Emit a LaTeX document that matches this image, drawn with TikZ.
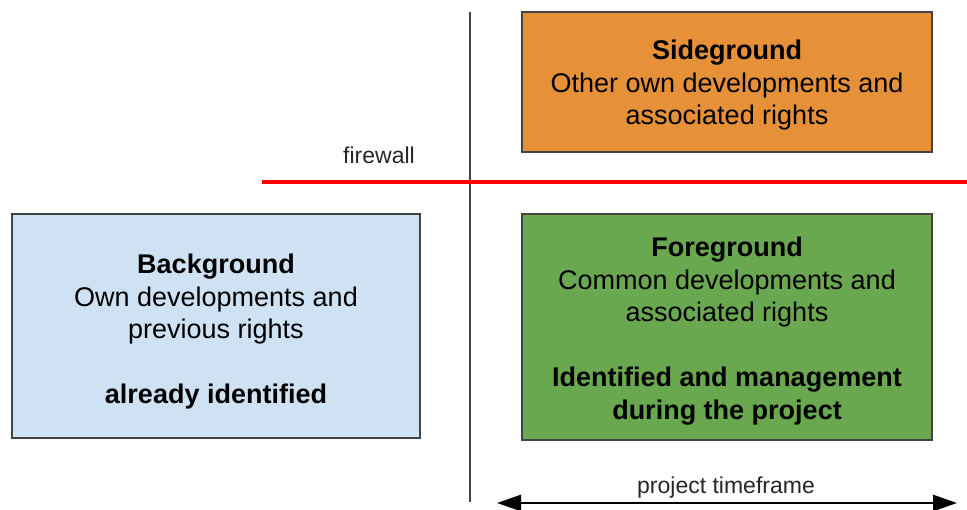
\documentclass[tikz,border=0pt]{standalone}
\usepackage{fontspec}
\setmainfont{Liberation Sans}
\usetikzlibrary{arrows.meta}
\definecolor{sideorange}{HTML}{E69138}
\definecolor{backblue}{HTML}{CFE2F3}
\definecolor{foregreen}{HTML}{6AA84F}
\definecolor{edgegray}{HTML}{434343}
\begin{document}
\begin{tikzpicture}[x=1pt,y=-1pt,
  areabox/.style={draw=edgegray,line width=1.3pt,inner sep=0pt,align=center,
    font=\fontsize{27}{32.5}\selectfont},
  smalllabel/.style={font=\fontsize{23}{27}\selectfont,text=black!85}]
  \useasboundingbox (0,0) rectangle (967,510);
  % quadrant boxes (the leading struts set the vertical placement of each text block)
  \node[areabox,fill=sideorange,minimum width=410pt,minimum height=140pt]
    (side) at (727,82) {\rule{0pt}{26pt}\textbf{Sideground}\\Other own developments and\\associated rights};
  \node[areabox,fill=backblue,minimum width=408pt,minimum height=224pt]
    (back) at (216,326) {\rule{0pt}{31pt}\textbf{Background}\\Own developments and\\previous rights\\[32.5pt]\textbf{already identified}};
  \node[areabox,fill=foregreen,minimum width=410pt,minimum height=226pt]
    (fore) at (727,327) {\rule{0pt}{28pt}\textbf{Foreground}\\Common developments and\\associated rights\\[32.5pt]\textbf{Identified and management}\\\textbf{during the project}};
  % axes
  \coordinate (vtop) at (470,12);
  \coordinate (vbot) at (470,502);
  \draw[edgegray,line width=2pt] (vtop) -- (vbot);
  \coordinate (fwl) at (262,182);
  \coordinate (fwr) at (967,182);
  \draw[red,line width=4.5pt] (fwl) -- (fwr);
  \node[smalllabel] (fwlabel) at (379,155) {firewall};
  \coordinate (tl) at (497,503);
  \coordinate (tr) at (957,503);
  \draw[black,line width=2.6pt,{Triangle[length=24pt,width=16pt]}-{Triangle[length=24pt,width=16pt]}] (tl) -- (tr);
  \node[smalllabel] (tflabel) at (726,488) {project timeframe};
\end{tikzpicture}
\end{document}
